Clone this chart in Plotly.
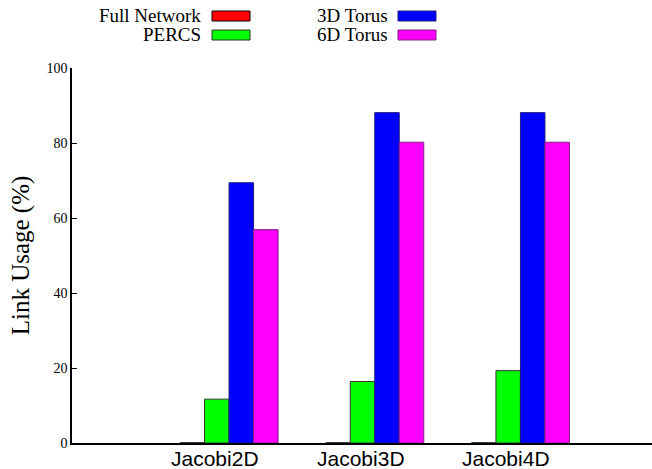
import plotly.graph_objects as go

# Benchmarks and link usage (%) per network topology
benchmarks = ["Jacobi2D", "Jacobi3D", "Jacobi4D"]
full_network = [0, 0, 0]
percs = [11.7, 16.4, 19.3]
torus_3d = [69.4, 88.1, 88.1]
torus_6d = [56.9, 80.2, 80.2]

series_names = ["Full Network", "PERCS", "3D Torus", "6D Torus"]
series_values = [full_network, percs, torus_3d, torus_6d]
fill_colors = ["#ff0000", "#00ff00", "#0000ff", "#ff00ff"]
edge_colors = ["#000000", "#333333", "#1a1a80", "#802080"]

y_ticks = [0, 20, 40, 60, 80, 100]

W, H = 652, 469
M_L, M_R, M_T, M_B = 72, 0, 68, 26

fig = go.Figure()
for name, vals, fc, ec in zip(series_names, series_values, fill_colors, edge_colors):
    fig.add_trace(go.Bar(
        x=benchmarks, y=vals, name=name,
        marker=dict(color=fc, line=dict(color=ec, width=1)),
        showlegend=False,
    ))

fig.update_layout(
    width=W, height=H,
    margin=dict(l=M_L, r=M_R, t=M_T, b=M_B),
    paper_bgcolor="white", plot_bgcolor="white",
    barmode="group", bargap=0.327, bargroupgap=0,
    xaxis=dict(
        type="category", range=[-1.078, 2.903],
        showline=True, linecolor="black", linewidth=1.5,
        ticks="", showgrid=False, zeroline=False,
        showticklabels=False,
        automargin=False,
    ),
    yaxis=dict(
        range=[0, 100], tickvals=y_ticks,
        showline=True, linecolor="black", linewidth=1.5,
        ticks="inside", ticklen=5, tickcolor="black", tickwidth=1,
        showgrid=False, zeroline=False,
        tickfont=dict(family="Liberation Serif", size=14, color="black"),
        title=dict(text="Link Usage (%)", standoff=10,
                   font=dict(family="Liberation Serif", size=25, color="black")),
        automargin=False,
    ),
)

# Key rows sit in the top margin; place them by pixel position in paper coords
plot_h = H - M_T - M_B
plot_w = W - M_L - M_R


def px_to_paper_x(px):
    return (px - M_L) / plot_w


def px_to_paper_y(py):
    return (H - M_B - py) / plot_h


# Category labels, set slightly left of each cluster centre
for name in benchmarks:
    fig.add_annotation(
        xref="x", yref="paper", x=name, y=px_to_paper_y(458), xshift=-14,
        text=name, showarrow=False, xanchor="center", yanchor="middle",
        font=dict(family="Liberation Sans", size=21, color="black"),
    )

key_rows = [(0, 203, 212, 16), (1, 203, 212, 35), (2, 390, 398, 16), (3, 390, 398, 35)]
for idx, text_right, sw_left, yc in key_rows:
    fig.add_annotation(
        xref="paper", yref="paper", x=px_to_paper_x(text_right), y=px_to_paper_y(yc),
        text=series_names[idx], showarrow=False, xanchor="right", yanchor="middle",
        font=dict(family="Liberation Serif", size=19, color="black"),
    )
    fig.add_shape(
        type="rect", xref="paper", yref="paper",
        x0=px_to_paper_x(sw_left), x1=px_to_paper_x(sw_left + 38),
        y0=px_to_paper_y(yc + 5), y1=px_to_paper_y(yc - 5),
        fillcolor=fill_colors[idx], line=dict(color=edge_colors[idx], width=1),
    )

fig.write_html("out.html")
